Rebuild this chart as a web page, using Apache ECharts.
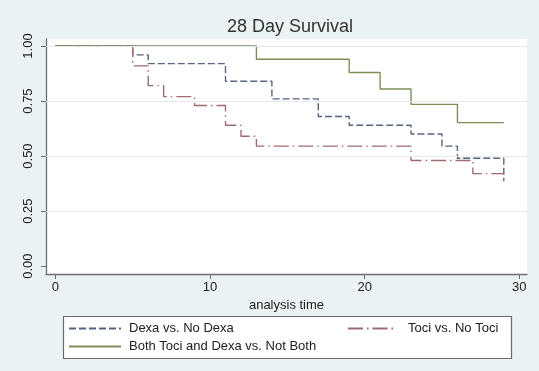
<!DOCTYPE html>
<html>
<head>
<meta charset="utf-8">
<script src="https://cdn.jsdelivr.net/npm/echarts@6/dist/echarts.min.js"></script>
<style>
html,body{margin:0;padding:0;background:#eaf2f3;}
#c{width:539px;height:371px;}
</style>
</head>
<body>
<div id="c"></div>
<script>
var xTicks = [0, 10, 20, 30];
var yTicks = [0, 0.25, 0.5, 0.75, 1];
var yGrid = [0.25, 0.5, 0.75, 1];

var dexaTimes  = [0, 5, 6, 11, 14, 17, 19, 23, 25, 26, 29];
var dexaValues = [1, 0.96, 0.92, 0.84, 0.76, 0.68, 0.64, 0.60, 0.545, 0.49, 0.385];

var tociTimes  = [0, 5, 6, 7, 9, 11, 12, 13, 23, 27, 29];
var tociValues = [1, 0.91, 0.82, 0.77, 0.73, 0.64, 0.59, 0.545, 0.48, 0.42, 0.42];

var bothTimes  = [0, 13, 19, 21, 23, 26, 29];
var bothValues = [1, 0.94, 0.88, 0.805, 0.735, 0.652, 0.652];

var seriesNames = ['Dexa vs. No Dexa', 'Toci vs. No Toci', 'Both Toci and Dexa vs. Not Both'];

function pairs(t, v) { return t.map(function (x, i) { return [x, v[i]]; }); }

var FONT = 'Liberation Sans, Arial, sans-serif';
var legendBase = {padding: 0, itemHeight: 14, itemStyle: {opacity: 0}};
function leg(name, left, top, w, pad) {
  return Object.assign({}, legendBase, {
    data: [name], left: left, top: top, itemWidth: w,
    textStyle: {fontFamily: FONT, fontSize: 13, color: '#222', padding: [0, 0, 0, pad]}
  });
}
var chart = echarts.init(document.getElementById('c'), null, {renderer: 'canvas'});
chart.setOption({
  backgroundColor: '#eaf2f3',
  animation: false,
  title: {
    text: '28 Day Survival',
    left: 222, top: 13,
    textStyle: {fontFamily: FONT, fontSize: 18, fontWeight: 'normal', color: '#333'}
  },
  graphic: [{
    type: 'rect', shape: {x: 63.5, y: 316.5, width: 448, height: 42},
    style: {fill: '#fff', stroke: '#6a6a6a', lineWidth: 1.2}, z: -1
  }],
  legend: [
    leg(seriesNames[0], 68, 322, 52, 3),
    leg(seriesNames[1], 347, 322, 45, 10),
    leg(seriesNames[2], 68, 340, 52, 3)
  ],
  grid: {left: 46, right: 12, top: 39, bottom: 97, show: true, backgroundColor: '#fff', borderWidth: 0},
  xAxis: {
    type: 'value', min: -0.61, max: 30.5,
    name: 'analysis time', nameLocation: 'middle', nameGap: 21,
    nameTextStyle: {fontFamily: FONT, fontSize: 13, color: '#222'},
    axisLine: {show: true, onZero: false, lineStyle: {color: '#6e6e6e', width: 1.3}},
    axisTick: {show: true, customValues: xTicks, length: 5, lineStyle: {color: '#6e6e6e'}},
    axisLabel: {customValues: xTicks, margin: 7, fontFamily: FONT, fontSize: 13, color: '#222'},
    splitLine: {show: false}
  },
  yAxis: {
    type: 'value', min: -0.036, max: 1.032,
    axisLine: {show: true, onZero: false, lineStyle: {color: '#6e6e6e', width: 1.3}},
    axisTick: {show: true, customValues: yTicks, length: 5, lineStyle: {color: '#6e6e6e'}},
    axisLabel: {customValues: yTicks, rotate: 90, margin: 11, fontFamily: FONT, fontSize: 13, color: '#222',
      formatter: function (v) { return v.toFixed(2); }},
    splitLine: {show: false}
  },
  series: [
    {type: 'line', name: 'grid', data: [], silent: true, z: 1,
     markLine: {silent: true, symbol: 'none', label: {show: false},
       lineStyle: {color: '#e4e9eb', width: 1, type: 'solid'},
       data: yGrid.map(function (v) { return {yAxis: v}; })}},
    {type: 'line', name: seriesNames[0], step: 'end', symbol: 'none', z: 3,
     data: pairs(dexaTimes, dexaValues),
     itemStyle: {color: '#56657f'},
     lineStyle: {color: '#56657f', width: 1.4, type: [7, 3]}},
    {type: 'line', name: seriesNames[1], step: 'end', symbol: 'none', z: 3,
     data: pairs(tociTimes, tociValues),
     itemStyle: {color: '#a06a72'},
     lineStyle: {color: '#a06a72', width: 1.4, type: [15, 4, 1.5, 4]}},
    {type: 'line', name: seriesNames[2], step: 'end', symbol: 'none', z: 4,
     data: pairs(bothTimes, bothValues),
     itemStyle: {color: '#7c8f55'},
     lineStyle: {color: '#7c8f55', width: 1.4, type: 'solid'}}
  ]
});
</script>
</body>
</html>
